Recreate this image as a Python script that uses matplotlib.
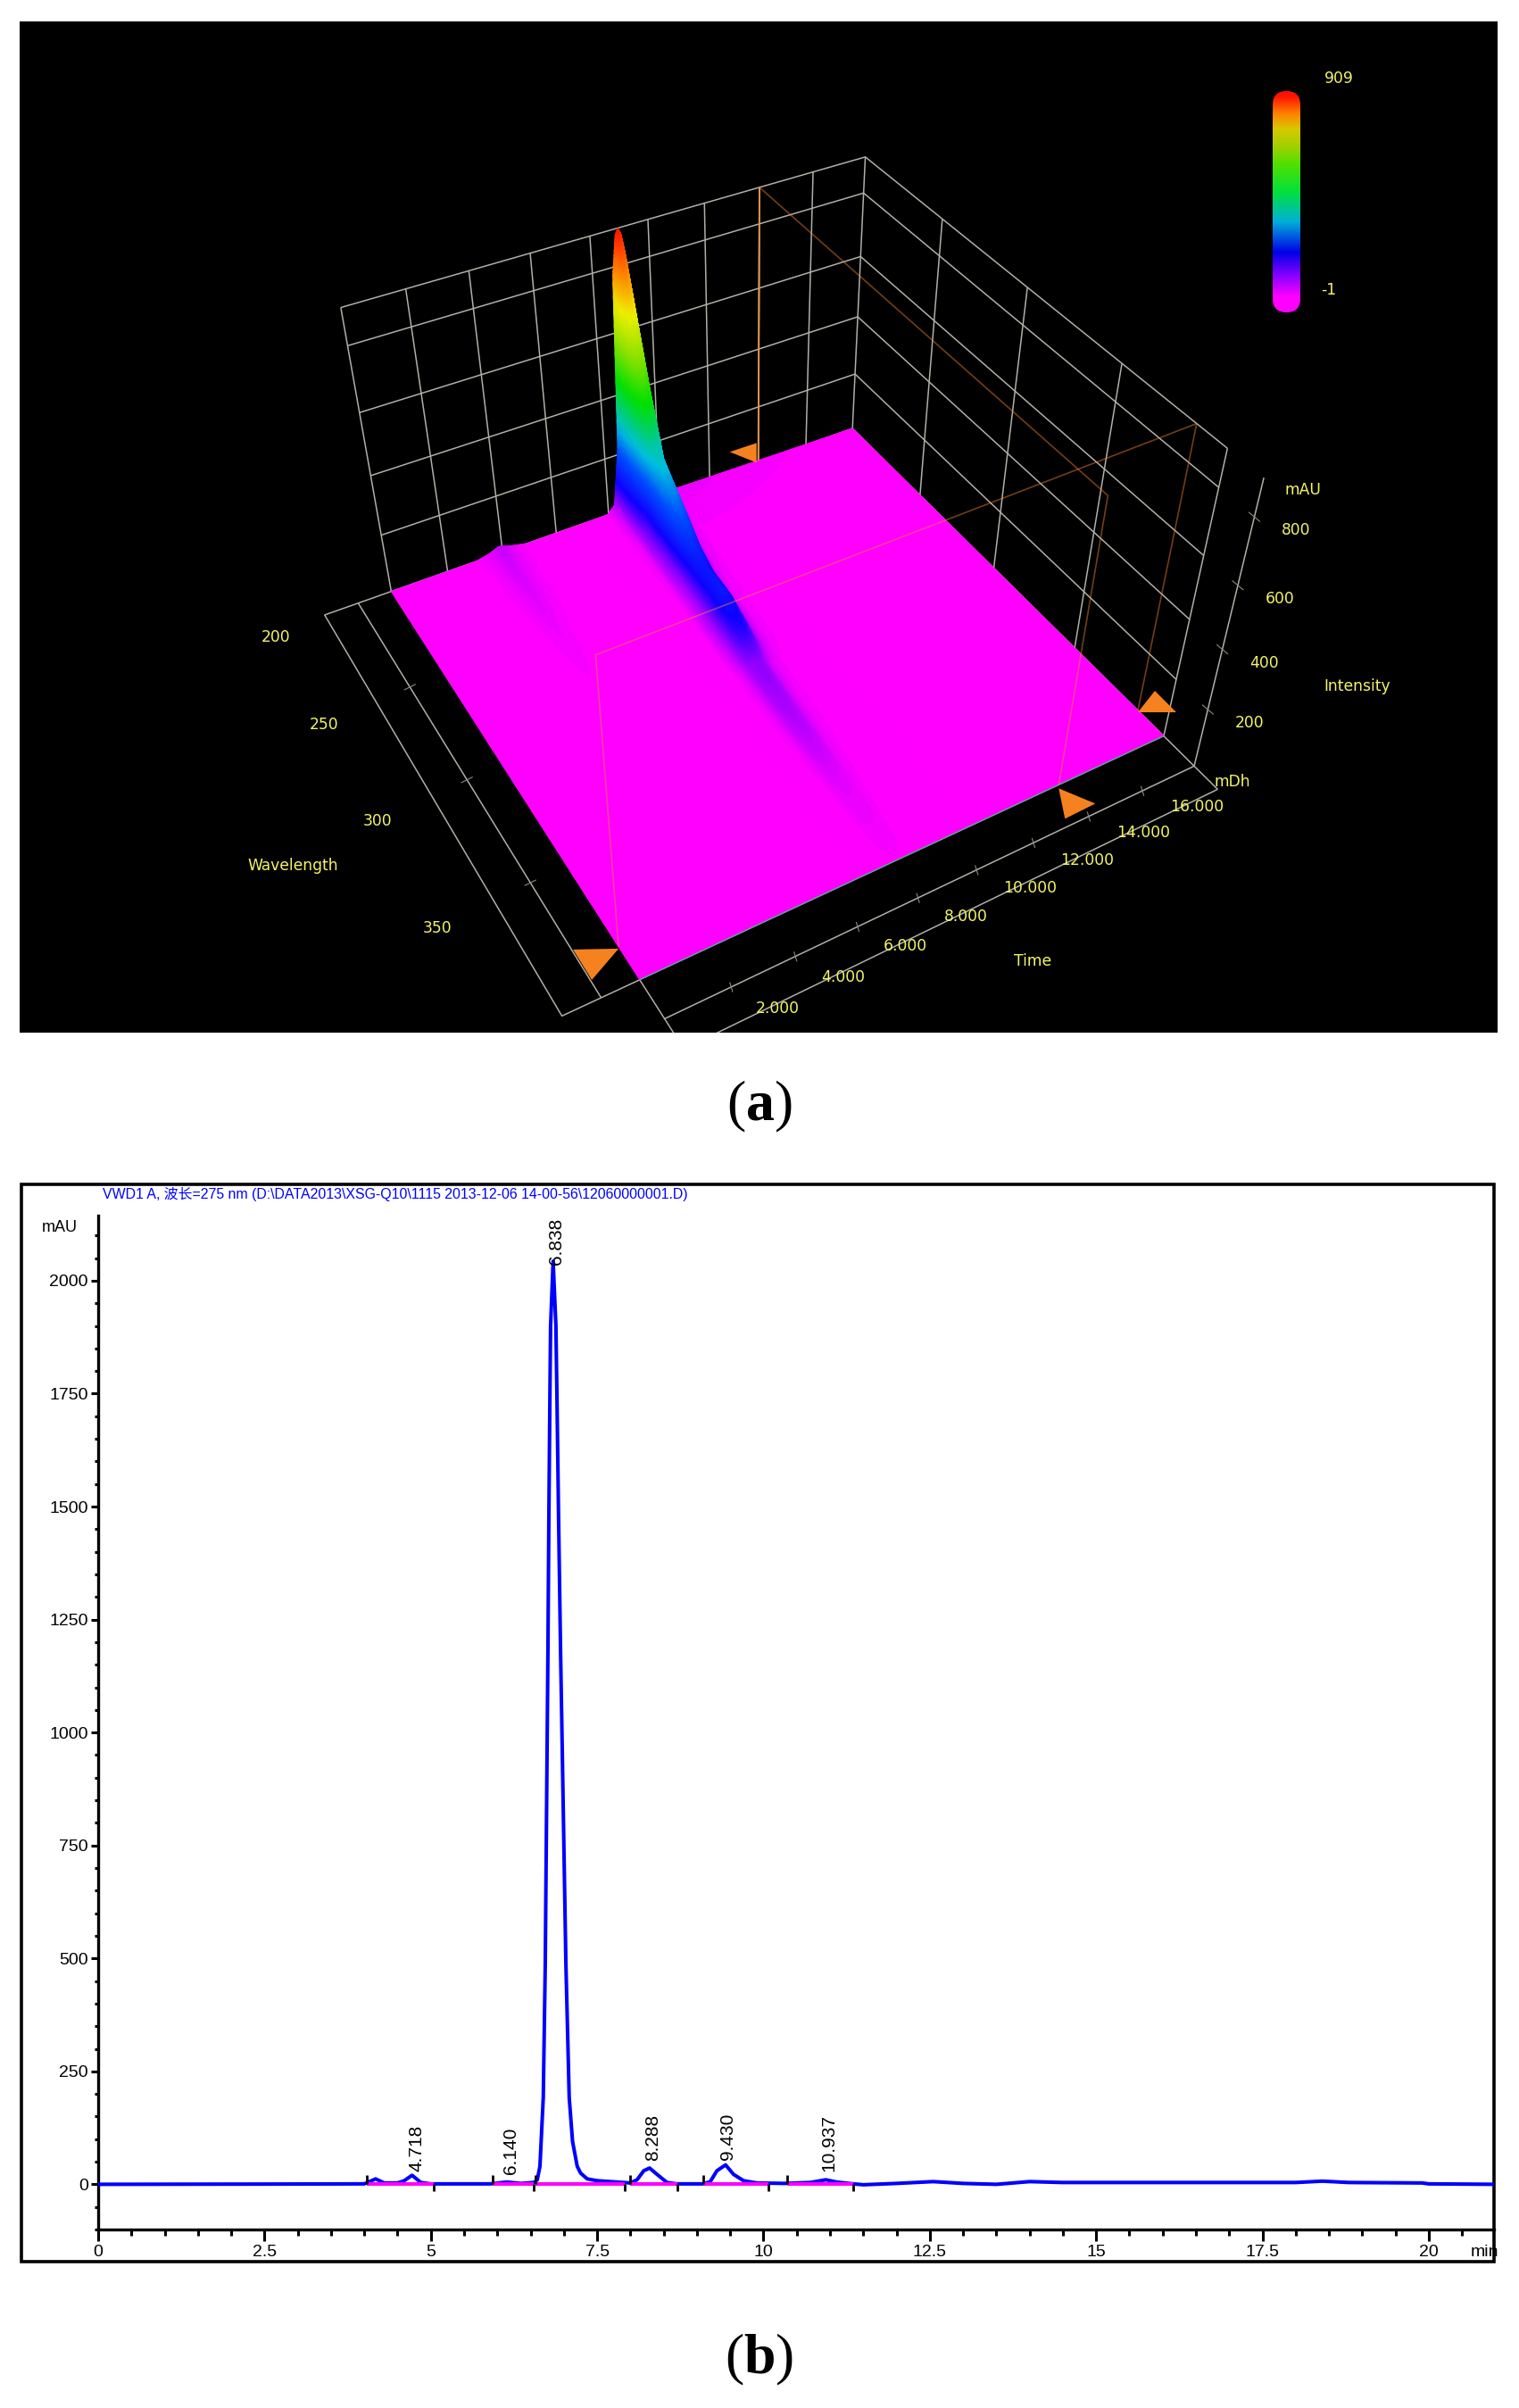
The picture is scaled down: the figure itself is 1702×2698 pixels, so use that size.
import numpy as np
import matplotlib
matplotlib.use('Agg')
import matplotlib.pyplot as plt
from matplotlib.colors import LinearSegmentedColormap
from matplotlib.patches import FancyBboxPatch, Rectangle
from matplotlib.ticker import MultipleLocator

W, H = 1702, 2698
plt.rcParams['mathtext.fontset'] = 'custom'
plt.rcParams['mathtext.rm'] = 'Liberation Serif'
plt.rcParams['mathtext.bf'] = 'Liberation Serif:bold'

time_ticks = [2, 4, 6, 8, 10, 12, 14, 16]
time_labels = ['2.000', '4.000', '6.000', '8.000', '10.000', '12.000', '14.000', '16.000']
wave_ticks = [200, 250, 300, 350]
int_ticks = [200, 400, 600, 800]
t_max, w_min, w_max, i_max = 18.0, 200.0, 400.0, 909.0
t_cursor, w_cursor = 14.0, 386.0

ridge_dt = [-9, -1.0, -0.7, -0.45, -0.26, -0.1, 0, 0.1, 0.26, 0.45, 0.75, 1.1, 1.6, 9]
ridge_amp = [0, 0, 0.03, 0.25, 0.85, 0.98, 1.0, 0.98, 0.85, 0.45, 0.18, 0.05, 0.01, 0]
ridge_w = [200, 203, 215, 225, 245, 255, 265, 280, 295, 305, 340, 365, 400]
ridge_spec = [909, 860, 560, 340, 230, 170, 140, 140, 100, 50, 28, 12, 3]
ridge_center_w = [200, 260, 320, 400]
ridge_center_t = [8.95, 8.7, 8.45, 8.3]
bump_t = [0, 3.0, 3.5, 3.9, 4.3, 4.9, 18]
bump_amp = [0, 0, 0.4, 1.0, 0.5, 0, 0]
bump_w = [200, 220, 250, 300, 400]
bump_spec = [25, 18, 8, 0, 0]

# panel b values
hplc_t = [0, 2.5, 4.0, 4.17, 4.3, 4.5, 4.6, 4.718, 4.85, 5.0, 5.9, 6.14, 6.35, 6.55, 6.6, 6.64, 6.69, 6.72, 6.76,
          6.774, 6.79, 6.80, 6.838, 6.88, 6.895, 6.92, 6.95, 7.03, 7.08, 7.13, 7.2, 7.25, 7.35, 7.5, 7.8, 8.0, 8.1, 8.2,
          8.288, 8.4, 8.55, 8.7, 9.1, 9.2, 9.3, 9.43, 9.55, 9.7, 9.9, 10.3, 10.7, 10.937, 11.1, 11.35, 11.5, 12.0,
          12.55, 13.0, 13.5, 14.0, 14.5, 18.0, 18.4, 18.8, 19.9, 20.0, 20.98]
hplc_y = [0, 0.5, 1, 12, 3, 3, 8, 20, 4, 1, 1, 5, 2, 4, 10, 40, 192, 488, 1180,
          1476, 1750, 1900, 2043, 1900, 1750, 1476, 1180, 488, 192, 95, 40, 25, 12, 8, 5, 3, 10, 30,
          36, 22, 4, 1, 1, 6, 30, 43, 22, 8, 3, 2, 4, 10, 5, 1, -1, 2,
          6, 2, 0, 6, 4, 4, 7, 4, 3, 1, 0]
rt_values = [4.718, 6.140, 6.838, 8.288, 9.430, 10.937]
rt_text_t = [4.79, 6.20, 6.89, 8.34, 9.47, 10.99]
rt_text_y = [28, 22, 2035, 52, 55, 28]
int_starts = [4.04, 5.93, 6.57, 8.0, 9.1, 10.35]
int_ends = [5.04, 6.55, 7.92, 8.7, 10.07, 11.35]

fig = plt.figure(figsize=(W / 100, H / 100), dpi=100, facecolor='white')


def box(x0, y0, x1, y1):
    return [x0 / W, 1 - y1 / H, (x1 - x0) / W, (y1 - y0) / H]


# camera for the 3d view: (t, w, i) -> image pixels
calib_world = [(0, 200, 0), (18, 200, 0), (18, 400, 0), (0, 400, 0), (0, 200, 909), (18, 200, 909), (18, 400, 909)]
calib_px = [(438, 663), (956, 481), (1304, 823), (716, 1098), (383, 344), (968, 175), (1376, 504)]
rows = []
for (t, w, i), (px, py) in zip(calib_world, calib_px):
    p = [t / t_max, (w - w_min) / (w_max - w_min), i / i_max, 1]
    rows.append(p + [0, 0, 0, 0] + [-px * c for c in p])
    rows.append([0, 0, 0, 0] + p + [-py * c for c in p])
cam = np.linalg.svd(np.array(rows, float))[2][-1].reshape(3, 4)


def proj(t, w, i):
    t, w, i = np.broadcast_arrays(np.asarray(t, float), np.asarray(w, float), np.asarray(i, float))
    p = np.stack([t / t_max, (w - w_min) / (w_max - w_min), i / i_max, np.ones_like(t)])
    q = np.tensordot(cam, p, axes=1)
    return q[0] / q[2], q[1] / q[2]


a = fig.add_axes(box(22, 24, 1678, 1157))
a.set_facecolor('black')
a.set_xticks([])
a.set_yticks([])
for s in a.spines.values():
    s.set_visible(False)

grey = '#b0b0a8'
yellow = '#f4f46a'


def line3(ax, t, w, i, color=grey, lw=1.1, alpha=1.0, z=2):
    x, y = proj(t, w, i)
    ax.plot(x, y, color=color, lw=lw, alpha=alpha, zorder=z, solid_capstyle='butt')


# walls
for t in [0] + time_ticks + [18]:
    line3(a, [t, t], [200, 200], [0, 909])
for w in wave_ticks[1:] + [400]:
    line3(a, [18, 18], [w, w], [0, 909])
for i in [0] + int_ticks + [909]:
    line3(a, [0, 18, 18], [200, 200, 400], [i, i, i])

# frames round the floor
w_in, w_out = 416, 428
t_in, t_out = -1.15, -2.3
line3(a, [0, t_out, t_out, 0], [200, 200, 400, 400], [0, 0, 0, 0])
line3(a, [t_in, t_in], [200, 400], [0, 0])
line3(a, [0, 18], [w_in, w_in], [0, 0])
line3(a, [0, 18], [w_out, w_out], [0, 0])
line3(a, [0, 0], [400, w_out], [0, 0])
line3(a, [18, 18], [400, w_out], [0, 0])
line3(a, [18, 18], [w_in, w_in], [0, 909])

# surface
tt = np.unique(np.r_[np.linspace(0, 18, 220), np.linspace(7, 11, 260)])
ww = np.unique(np.r_[np.linspace(200, 400, 160), np.linspace(200, 240, 50)])
spec = np.interp(ww, ridge_w, ridge_spec)
centre = np.interp(ww, ridge_center_w, ridge_center_t)
surf = np.array([s * np.interp(tt - c, ridge_dt, ridge_amp) for s, c in zip(spec, centre)]) + \
    np.outer(np.interp(ww, bump_w, bump_spec), np.interp(tt, bump_t, bump_amp))
T, L = np.meshgrid(tt, ww)
sx, sy = proj(T, L, surf)
surf_cmap = LinearSegmentedColormap.from_list('surf', [
    (0, '#ff00ff'), (0.035, '#b000ff'), (0.12, '#1000ff'), (0.24, '#0050ff'), (0.33, '#00c0e0'),
    (0.5, '#00e000'), (0.62, '#80e000'), (0.76, '#f0f000'), (0.88, '#ff8000'), (1, '#ff1000')])
a.pcolormesh(sx, sy, surf, shading='gouraud', cmap=surf_cmap, vmin=0, vmax=909, zorder=3)
line3(a, [0, 18], [400, 400], [0, 0], color='#50b090', lw=1, z=3.5)

# cursor planes
line3(a, [14, 14, 14, 14], [400, 400, 200, 200], [0, 909, 909, 0], color='#ff8833', lw=1.2, alpha=0.45, z=4)
line3(a, [0, 0, 18, 18], [w_cursor, w_cursor, w_cursor, w_cursor], [0, 909, 909, 0], color='#ff8833', lw=1.2, alpha=0.45, z=4)
line3(a, [14, 14], [200, 200], [0, 909], color='#c89860', lw=1.4, z=2.5)

cursors = [((14, 200), [(-32, -11), (-2, -21), (-2, 1)]),
           ((14, 400), [(0, 4), (41, 21), (7, 38)]),
           ((18, w_cursor), [(19, -22), (43, 2), (0, 2)]),
           ((0, w_cursor), [(-51, 3), (0, 2), (-30, 37)])]
for (t, w), off in cursors:
    ax0, ay0 = proj(t, w, 0)
    a.fill([ax0 + o[0] for o in off], [ay0 + o[1] for o in off], color='#f5821f', lw=0, zorder=5)

# ticks and labels
tick_grey = '#8c8c86'
for t, lab in zip(time_ticks, time_labels):
    x, y = proj(t, w_in, 0)
    a.plot([x - 1, x + 2], [y - 5, y + 5], color=tick_grey, lw=0.8, zorder=2)
    x, y = proj(t, w_out, 0)
    a.text(x + 6, y - 9, lab, color=yellow, fontsize=12.3, ha='left', va='center', zorder=6)
for w in wave_ticks:
    x, y = proj(t_in, w, 0)
    if w != 200:
        a.plot([x - 6, x + 6], [y + 3, y - 3], color=tick_grey, lw=0.8, zorder=2)
    x, y = proj(-3.95, w, 0)
    a.text(x, y + 6, str(w), color=yellow, fontsize=12.3, ha='center', va='center', zorder=6)
for i in int_ticks:
    x, y = proj(18, w_in, i)
    a.plot([x - 6, x + 6], [y - 5, y + 5], color=tick_grey, lw=0.8, zorder=2)
    a.text(x + 47, y + 15, str(i), color=yellow, fontsize=12.3, ha='center', va='center', zorder=6)

a.text(1460, 549, 'mAU', color=yellow, fontsize=12.3, ha='center', va='center')
a.text(1521, 769, 'Intensity', color=yellow, fontsize=12.3, ha='center', va='center')
a.text(1157, 1077, 'Time', color=yellow, fontsize=12.3, ha='center', va='center')
a.text(328, 970, 'Wavelength', color=yellow, fontsize=12.3, ha='center', va='center')
a.text(1381, 876, 'mDh', color=yellow, fontsize=12.3, ha='center', va='center')
a.text(1500, 88, '909', color=yellow, fontsize=12.3, ha='center', va='center')
a.text(1489, 325, '-1', color=yellow, fontsize=12.3, ha='center', va='center')

# colour bar
bar_cmap = LinearSegmentedColormap.from_list('bar', [
    (0, '#ff00ff'), (0.07, '#ff00ff'), (0.17, '#8000ff'), (0.27, '#0000e8'), (0.41, '#00b0d8'),
    (0.54, '#00e040'), (0.67, '#50e000'), (0.75, '#a0d000'), (0.83, '#d8c800'), (0.9, '#ff8000'), (0.98, '#ff1000'), (1, '#ff1000')])
grad = np.linspace(1, 0, 256).reshape(-1, 1)
im = a.imshow(grad, extent=(1426, 1457, 350, 102), cmap=bar_cmap, vmin=0, vmax=1, aspect='auto', zorder=3)
clip = FancyBboxPatch((1426, 102), 31, 248, boxstyle='round,pad=0,rounding_size=15.5',
                      transform=a.transData, fc='none', ec='none')
a.add_patch(clip)
im.set_clip_path(clip)
a.set_xlim(22, 1678)
a.set_ylim(1157, 24)

# panel b
fig.add_artist(Rectangle((24 / W, 1 - 2534 / H), 1650 / W, 1207 / H, transform=fig.transFigure,
                         fc='white', ec='black', lw=2.6, zorder=0))
b = fig.add_axes(box(110, 1362, 1674, 2498))
b.patch.set_alpha(0)
narrow = ['Liberation Sans Narrow', 'Liberation Sans', 'Noto Sans CJK SC']
b.plot(hplc_t, hplc_y, color='#0000ff', lw=2.9, solid_joinstyle='round', zorder=3)
for s, e in zip(int_starts, int_ends):
    b.plot([s, e], [1, 1], color='#ff00ff', lw=2.9, zorder=4, solid_capstyle='butt')
b.vlines(int_starts, 0, 20, color='black', lw=2, zorder=5)
b.vlines(int_ends, -16, 0, color='black', lw=2, zorder=5)
for rt, xt, yt in zip(rt_values, rt_text_t, rt_text_y):
    b.text(xt, yt, '%.3f' % rt, rotation=90, ha='center', va='bottom', family='Liberation Sans', fontsize=15, zorder=6)

b.set_xlim(0, 20.98)
b.set_ylim(-100, 2144)
b.set_xticks([0, 2.5, 5, 7.5, 10, 12.5, 15, 17.5, 20], ['0', '2.5', '5', '7.5', '10', '12.5', '15', '17.5', '20'],
             family=narrow, fontsize=14)
b.set_yticks([0, 250, 500, 750, 1000, 1250, 1500, 1750, 2000],
             ['0', '250', '500', '750', '1000', '1250', '1500', '1750', '2000'], family=narrow, fontsize=14)
b.xaxis.set_minor_locator(MultipleLocator(0.5))
b.yaxis.set_minor_locator(MultipleLocator(50))
b.tick_params(axis='x', which='major', length=9.5, width=2.2, pad=3)
b.tick_params(axis='x', which='minor', length=5, width=2.2)
b.tick_params(axis='y', which='major', length=6, width=2.2, pad=2)
b.tick_params(axis='y', which='minor', length=3, width=2.2)
b.spines['top'].set_visible(False)
b.spines['right'].set_visible(False)
b.spines['left'].set_linewidth(2.4)
b.spines['bottom'].set_linewidth(2.4)

fig.text(67 / W, 1 - 1375 / H, 'mAU', family=narrow, fontsize=13, ha='center', va='center')
fig.text(1663 / W, 1 - 2523 / H, 'min', family=narrow, fontsize=14, ha='center', va='center')
fig.text(115 / W, 1 - 1338 / H, 'VWD1 A, 波长=275 nm (D:\\DATA2013\\XSG-Q10\\1115 2013-12-06 14-00-56\\12060000001.D)',
         family=narrow, color='#0000ff', fontsize=11.4, ha='left', va='center')

fig.text(851 / W, 1 - 1240 / H, r'($\mathbf{a}$)', family='Liberation Serif', fontsize=46, ha='center', va='center')
fig.text(851 / W, 1 - 2644 / H, r'($\mathbf{b}$)', family='Liberation Serif', fontsize=46, ha='center', va='center')

fig.savefig('out.png', dpi=100)
